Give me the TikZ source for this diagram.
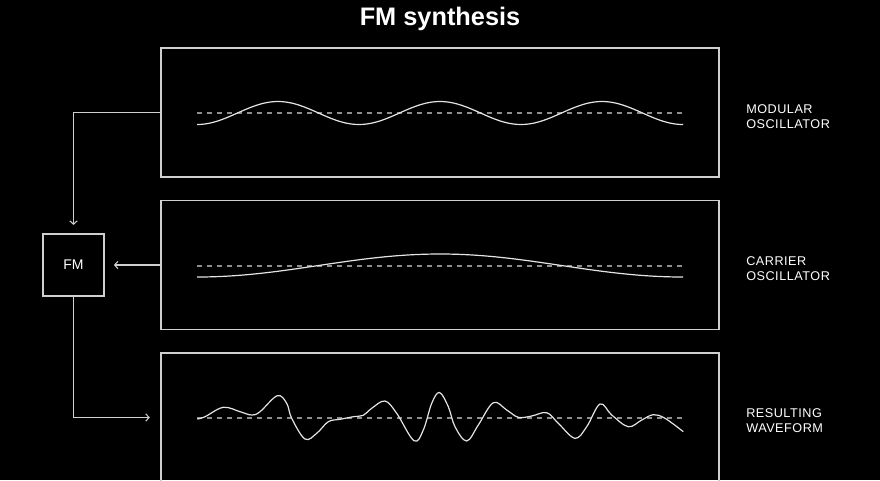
\documentclass[tikz,border=0pt]{standalone}
\usepackage{fontspec}
\setmainfont{Liberation Sans}
\newfontfamily\labelfont[LetterSpace=4]{Liberation Sans}
\usetikzlibrary{arrows.meta}

\definecolor{linegray}{HTML}{CFCFCF}
\definecolor{dashgray}{HTML}{8E8E8E}
\definecolor{wavewhite}{HTML}{E4E4E4}

\tikzset{
  panel/.style={draw=linegray,line width=0.8pt,minimum width=418.5pt,minimum height=96.75pt,inner sep=0pt},
  fmbox/.style={draw=linegray,line width=0.8pt,minimum width=45.75pt,minimum height=46.5pt,inner sep=0pt,
    text=white,font=\fontsize{10.5}{12}\selectfont},
  sidelabel/.style={anchor=west,align=left,inner sep=0pt,text=white,font=\labelfont\fontsize{9.5}{11.25}\selectfont},
  conn/.style={draw=linegray,line width=0.8pt,-{Straight Barb[length=2.5pt,width=5.5pt]}},
  wave/.style={draw=wavewhite,line width=0.9pt},
  baseline dash/.style={draw=dashgray,line width=0.8pt,dash pattern=on 3.75pt off 3.75pt}
}

\begin{document}
\begin{tikzpicture}[x=0.75pt,y=-0.75pt]

\fill[black] (0,0) rectangle (880,480);
\clip (0,0) rectangle (880,480);

\node[anchor=base,inner sep=0pt,text=white,font=\bfseries\fontsize{19}{22}\selectfont] (title) at (440,25) {FM synthesis};

% the three panels and the FM block
\node[panel] (modbox) at (440,112.5) {};
\node[panel] (carbox) at (440,265) {};
\node[panel] (resbox) at (440,417.5) {};
\node[fmbox] (fm) at (73.5,265) {FM};

\node[sidelabel] (modlabel) at (746,116.2) {MODULAR\\OSCILLATOR};
\node[sidelabel] (carlabel) at (746,268.3) {CARRIER\\OSCILLATOR};
\node[sidelabel] (reslabel) at (746,420.8) {RESULTING\\WAVEFORM};

% connectors
\draw[conn,shorten >=6.4pt] (modbox.west) -| (fm.north);
\draw[conn,shorten >=7pt] (carbox.west) -- (fm.east);
\draw[conn,shorten >=8pt] (fm.south) |- (resbox.west);

% modulator
\draw[baseline dash] (197,113) -- (683,113);
\draw[wave] plot[domain=197:683,samples=150,smooth] (\x,{113+11.5*cos(((\x-197)/162)*360)});

% carrier
\draw[baseline dash] (197,266) -- (683,266);
\draw[wave] plot[domain=197:683,samples=100,smooth] (\x,{265.5+11.5*cos(((\x-197)/486)*360)});

% result
\draw[baseline dash] (197,418) -- (683,418);
\draw[wave] plot[smooth,tension=0.6] coordinates {
  (197.3,419) (205,416.7) (223.3,407.3) (240,411.7) (251.7,415) (260,411.7)
  (277.3,395.7) (286.7,403.3) (291.7,418.3) (305,439) (316.7,433.3) (328.3,421.7)
  (340,419.3) (353.3,416.7) (363.3,415.3) (371.7,408.3) (385,401) (396.7,413.3)
  (414,440.7) (423.3,430) (431.7,403.3) (439.5,392.5) (448.3,406.7) (455,426.7)
  (466.7,441) (478.3,425) (493.3,402.7) (506.7,410) (518.3,417.3) (531.7,416)
  (546.7,412.7) (558.3,423.3) (575,438.3) (586.7,426.7) (600,404) (611.7,415)
  (628.3,426.7) (641.7,420) (653.3,414.7) (665,418.3) (683.3,431.7)};

\end{tikzpicture}
\end{document}
